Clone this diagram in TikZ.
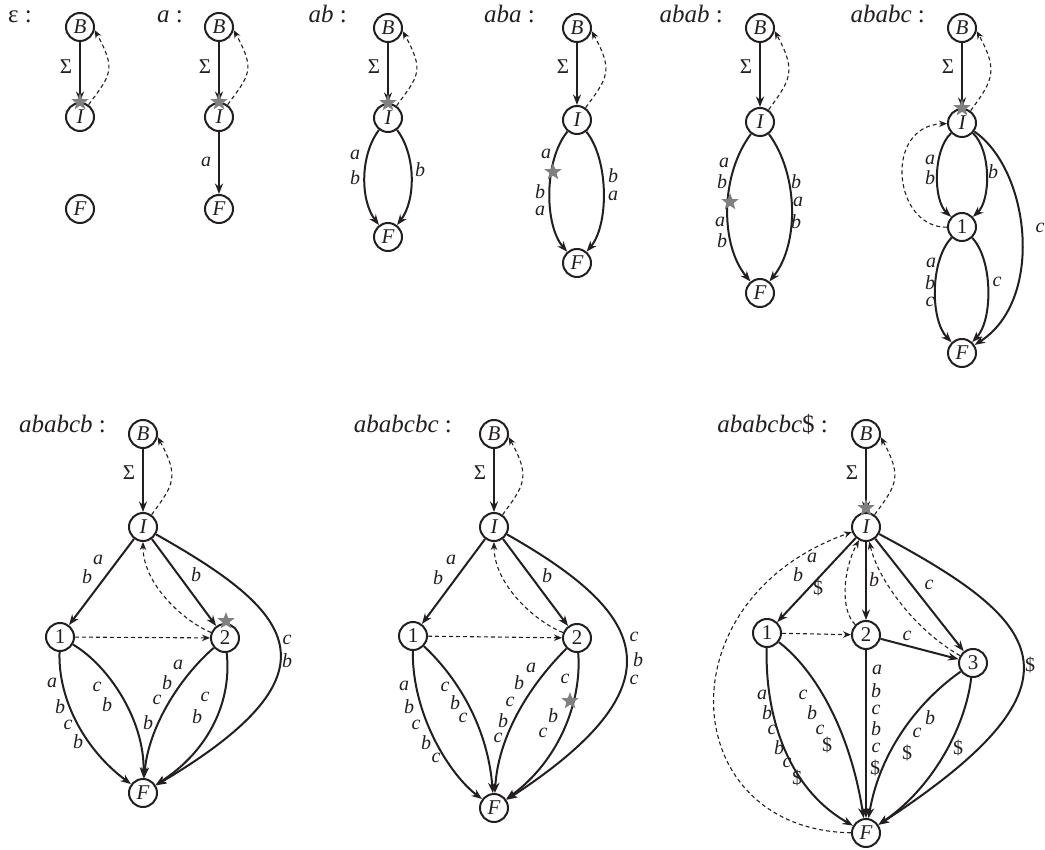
\documentclass[tikz,border=0pt]{standalone}
\usepackage{fontspec}
\setmainfont{Liberation Serif}
\usetikzlibrary{arrows.meta,shapes.geometric}
\definecolor{ink}{RGB}{35,31,32}
\definecolor{stargray}{RGB}{128,128,128}
\tikzset{
  st/.style={circle,draw=ink,line width=2pt,minimum size=28pt,inner sep=0pt,fill=white,text=ink,font=\fontsize{21}{21}\selectfont\itshape},
  stn/.style={st,font=\fontsize{21}{21}\selectfont},
  lab/.style={inner sep=0pt,text=ink,font=\fontsize{20}{20}\selectfont\itshape},
  ulab/.style={inner sep=0pt,text=ink,font=\fontsize{20}{20}\selectfont},
  sig/.style={inner sep=0pt,text=ink,font=\fontsize{21}{21}\selectfont},
  ttl/.style={inner sep=0pt,anchor=base east,text=ink,font=\fontsize{25}{25}\selectfont\itshape},
  ed/.style={draw=ink,line width=2pt,-{Stealth[length=10.5pt,width=8pt]}},
  dsh/.style={draw=ink,line width=1.1pt,dash pattern=on 4pt off 3pt,-{Stealth[length=8pt,width=6.5pt]}},
  starn/.style={star,star points=5,star point ratio=2.4,fill=stargray,draw=none,minimum size=18pt,inner sep=0pt},
}
\begin{document}
\begin{tikzpicture}[x=1pt,y=-1pt]
\useasboundingbox (0,0) rectangle (1045,850);

% ---------- panel 1 : epsilon
\node[ttl] (T1) at (32,23) {\upshape ε :};
\node[st] (B1) at (80,27) {B};
\node[st] (I1) at (80,117) {I};
\node[st] (F1) at (80,209) {F};
\node[sig] (S1) at (66,67) {Σ};
\draw[ed] (B1) -- (I1);
\draw[dsh] (I1.55) .. controls +(22,-30) and +(22,40) .. (B1.-12);
\node[starn] (K1) at (80,102) {};

% ---------- panel 2 : a
\node[ttl] (T2) at (183,23) {a {\upshape :}};
\node[st] (B2) at (219,27) {B};
\node[st] (I2) at (219,117) {I};
\node[st] (F2) at (219,209) {F};
\node[sig] (S2) at (205,67) {Σ};
\draw[ed] (B2) -- (I2);
\draw[dsh] (I2.55) .. controls +(22,-30) and +(22,40) .. (B2.-12);
\draw[ed] (I2) -- (F2);
\node[lab] (L2a) at (206,162) {a};
\node[starn] (K2) at (219,102) {};

% ---------- panel 3 : ab
\node[ttl] (T3) at (347,23) {ab {\upshape :}};
\node[st] (B3) at (388,28) {B};
\node[st] (I3) at (388,118) {I};
\node[st] (F3) at (388,237) {F};
\node[sig] (S3) at (374,67) {Σ};
\draw[ed] (B3) -- (I3);
\draw[dsh] (I3.55) .. controls +(22,-30) and +(22,40) .. (B3.-12);
\draw[ed] (I3) .. controls (360,155) and (360,200) .. (F3);
\draw[ed] (I3) .. controls (416,155) and (416,200) .. (F3);
\node[lab] (L3a) at (355,155) {a};
\node[lab] (L3b) at (355,178) {b};
\node[lab] (L3c) at (420,170) {b};
\node[starn] (K3) at (388,103) {};

% ---------- panel 4 : aba
\node[ttl] (T4) at (535,23) {aba {\upshape :}};
\node[st] (B4) at (577,28) {B};
\node[st] (I4) at (577,120) {I};
\node[st] (F4) at (577,263) {F};
\node[sig] (S4) at (563,67) {Σ};
\draw[ed] (B4) -- (I4);
\draw[dsh] (I4.55) .. controls +(22,-30) and +(22,40) .. (B4.-12);
\draw[ed] (I4) .. controls (544,160) and (544,225) .. (F4);
\draw[ed] (I4) .. controls (609,160) and (609,225) .. (F4);
\node[lab] (L4a) at (546,154) {a};
\node[lab] (L4b) at (540,192) {b};
\node[lab] (L4c) at (540,211) {a};
\node[lab] (L4d) at (613,176) {b};
\node[lab] (L4e) at (613,196) {a};
\node[starn] (K4) at (553,172) {};

% ---------- panel 5 : abab
\node[ttl] (T5) at (723,23) {abab {\upshape :}};
\node[st] (B5) at (760,28) {B};
\node[st] (I5) at (760,122) {I};
\node[st] (F5) at (760,293) {F};
\node[sig] (S5) at (746,67) {Σ};
\draw[ed] (B5) -- (I5);
\draw[dsh] (I5.55) .. controls +(22,-30) and +(22,40) .. (B5.-12);
\draw[ed] (I5) .. controls (720,175) and (720,245) .. (F5);
\draw[ed] (I5) .. controls (799,175) and (799,245) .. (F5);
\node[lab] (L5a) at (724,163) {a};
\node[lab] (L5b) at (722,182) {b};
\node[lab] (L5c) at (720,222) {a};
\node[lab] (L5d) at (722,241) {b};
\node[lab] (L5e) at (796,182) {b};
\node[lab] (L5f) at (798,202) {a};
\node[lab] (L5g) at (796,222) {b};
\node[starn] (K5) at (730,202) {};

% ---------- panel 6 : ababc
\node[ttl] (T6) at (925,23) {ababc {\upshape :}};
\node[st] (B6) at (962,28) {B};
\node[st] (I6) at (962,123) {I};
\node[stn] (N6) at (962,227) {1};
\node[st] (F6) at (962,353) {F};
\node[sig] (S6) at (948,67) {Σ};
\draw[ed] (B6) -- (I6);
\draw[dsh] (I6.55) .. controls +(22,-30) and +(22,40) .. (B6.-12);
\draw[ed] (I6) .. controls (933,150) and (933,200) .. (N6);
\draw[ed] (I6) .. controls (991,150) and (991,200) .. (N6);
\draw[ed] (N6) .. controls (930,260) and (930,320) .. (F6);
\draw[ed] (N6) .. controls (993,260) and (993,320) .. (F6);
\draw[ed] (I6) .. controls (1030,170) and (1045,300) .. (F6);
\draw[dsh] (N6) .. controls (893,228) and (883,126) .. (I6);
\node[lab] (L6a) at (930,160) {a};
\node[lab] (L6b) at (930,178) {b};
\node[lab] (L6c) at (993,172) {b};
\node[lab] (L6d) at (931,263) {a};
\node[lab] (L6e) at (930,283) {b};
\node[lab] (L6f) at (930,302) {c};
\node[lab] (L6g) at (997,282) {c};
\node[lab] (L6h) at (1040,228) {c};
\node[starn] (K6) at (962,108) {};

% ---------- panel 7 : ababcb
\node[ttl] (T7) at (106,432) {ababcb {\upshape :}};
\node[st] (B7) at (143,434) {B};
\node[st] (I7) at (143,527) {I};
\node[stn] (N71) at (60,637) {1};
\node[stn] (N72) at (225,638) {2};
\node[st] (F7) at (143,793) {F};
\node[sig] (S7) at (129,473) {Σ};
\draw[ed] (B7) -- (I7);
\draw[dsh] (I7.55) .. controls +(22,-30) and +(22,40) .. (B7.-12);
\draw[ed] (I7) -- (N71);
\draw[ed] (I7) -- (N72);
\draw[dsh] (N72) .. controls (185,622) and (143,585) .. (I7);
\draw[dsh] (N71) -- (N72);
\draw[ed] (I7) .. controls (290,610) and (350,670) .. (F7);
\draw[ed] (N71) .. controls (58,700) and (85,750) .. (F7);
\draw[ed] (N71) .. controls (108,665) and (145,720) .. (F7);
\draw[ed] (N72) .. controls (177,680) and (148,730) .. (F7);
\draw[ed] (N72) .. controls (232,700) and (210,750) .. (F7);
\node[lab] (L7a) at (98,560) {a};
\node[lab] (L7b) at (87,577) {b};
\node[lab] (L7c) at (196,575) {b};
\node[lab] (L7d) at (287,640) {c};
\node[lab] (L7e) at (287,661) {b};
\node[lab] (L7f) at (52,683) {a};
\node[lab] (L7g) at (60,707) {b};
\node[lab] (L7h) at (68,725) {c};
\node[lab] (L7i) at (78,742) {b};
\node[lab] (L7j) at (97,687) {c};
\node[lab] (L7k) at (107,705) {b};
\node[lab] (L7l) at (178,665) {a};
\node[lab] (L7m) at (167,683) {b};
\node[lab] (L7n) at (157,700) {c};
\node[lab] (L7o) at (148,723) {b};
\node[lab] (L7p) at (205,697) {c};
\node[lab] (L7q) at (197,717) {b};
\node[starn] (K7) at (226,621) {};

% ---------- panel 8 : ababcbc
\node[ttl] (T8) at (452,432) {ababcbc {\upshape :}};
\node[st] (B8) at (494,434) {B};
\node[st] (I8) at (494,527) {I};
\node[stn] (N81) at (413,636) {1};
\node[stn] (N82) at (577,638) {2};
\node[st] (F8) at (494,808) {F};
\node[sig] (S8) at (480,473) {Σ};
\draw[ed] (B8) -- (I8);
\draw[dsh] (I8.55) .. controls +(22,-30) and +(22,40) .. (B8.-12);
\draw[ed] (I8) -- (N81);
\draw[ed] (I8) -- (N82);
\draw[dsh] (N82) .. controls (536,622) and (494,585) .. (I8);
\draw[dsh] (N81) -- (N82);
\draw[ed] (I8) .. controls (640,610) and (690,680) .. (F8);
\draw[ed] (N81) .. controls (412,715) and (450,775) .. (F8);
\draw[ed] (N81) .. controls (460,680) and (488,730) .. (F8);
\draw[ed] (N82) .. controls (525,690) and (498,740) .. (F8);
\draw[ed] (N82) .. controls (582,700) and (560,760) .. (F8);
\node[lab] (L8a) at (451,560) {a};
\node[lab] (L8b) at (438,578) {b};
\node[lab] (L8c) at (547,576) {b};
\node[lab] (L8d) at (634,637) {c};
\node[lab] (L8e) at (638,660) {b};
\node[lab] (L8f) at (634,680) {c};
\node[lab] (L8g) at (404,686) {a};
\node[lab] (L8h) at (409,707) {b};
\node[lab] (L8i) at (416,725) {c};
\node[lab] (L8j) at (426,743) {b};
\node[lab] (L8k) at (436,758) {c};
\node[lab] (L8l) at (445,687) {c};
\node[lab] (L8m) at (455,703) {b};
\node[lab] (L8n) at (463,718) {c};
\node[lab] (L8o) at (531,668) {a};
\node[lab] (L8p) at (519,683) {b};
\node[lab] (L8q) at (510,702) {c};
\node[lab] (L8r) at (503,721) {b};
\node[lab] (L8s) at (498,738) {c};
\node[lab] (L8t) at (565,679) {c};
\node[lab] (L8u) at (553,716) {b};
\node[lab] (L8v) at (543,733) {c};
\node[starn] (K8) at (570,701) {};

% ---------- panel 9 : ababcbc$
\node[ttl] (T9) at (828,432) {ababcbc{\upshape\$ :}};
\node[st] (B9) at (866,434) {B};
\node[st] (I9) at (866,527) {I};
\node[stn] (N91) at (767,633) {1};
\node[stn] (N92) at (866,635) {2};
\node[stn] (N93) at (973,663) {3};
\node[st] (F9) at (866,833) {F};
\node[sig] (S9) at (852,473) {Σ};
\draw[ed] (B9) -- (I9);
\draw[dsh] (I9.55) .. controls +(22,-30) and +(22,40) .. (B9.-12);
\draw[ed] (I9) -- (N91);
\draw[ed] (I9) -- (N92);
\draw[ed] (I9) -- (N93);
\draw[ed] (N92) -- (N93);
\draw[ed] (N92) -- (F9);
\draw[ed] (I9) .. controls (1040,620) and (1100,680) .. (F9);
\draw[ed] (N91) .. controls (765,720) and (790,790) .. (F9);
\draw[ed] (N91) .. controls (815,670) and (850,730) .. (F9);
\draw[ed] (N93) .. controls (920,700) and (880,750) .. (F9);
\draw[ed] (N93) .. controls (965,730) and (930,790) .. (F9);
\draw[dsh] (N91) -- (N92);
\draw[dsh] (N92) .. controls (840,610) and (843,570) .. (I9);
\draw[dsh] (N93) .. controls (915,630) and (878,580) .. (I9);
\draw[dsh] (F9) .. controls (677,830) and (660,600) .. (I9);
\node[lab] (L9a) at (812,558) {a};
\node[lab] (L9b) at (798,575) {b};
\node[ulab] (L9c) at (818,588) {\$};
\node[lab] (L9d) at (874,580) {b};
\node[lab] (L9e) at (929,585) {c};
\node[lab] (L9f) at (907,636) {c};
\node[ulab] (L9g) at (1030,665) {\$};
\node[lab] (L9h) at (762,695) {a};
\node[lab] (L9i) at (767,713) {b};
\node[lab] (L9j) at (772,730) {c};
\node[lab] (L9k) at (779,748) {b};
\node[lab] (L9l) at (787,763) {c};
\node[ulab] (L9m) at (797,778) {\$};
\node[lab] (L9n) at (803,695) {c};
\node[lab] (L9o) at (812,713) {b};
\node[lab] (L9p) at (820,730) {c};
\node[ulab] (L9q) at (827,745) {\$};
\node[lab] (L9r) at (877,670) {a};
\node[lab] (L9s) at (876,691) {b};
\node[lab] (L9t) at (876,710) {c};
\node[lab] (L9u) at (876,729) {b};
\node[lab] (L9v) at (876,748) {c};
\node[ulab] (L9w) at (875,768) {\$};
\node[lab] (L9x) at (930,718) {b};
\node[lab] (L9y) at (917,733) {c};
\node[ulab] (L9z) at (907,753) {\$};
\node[ulab] (L9A) at (958,748) {\$};
\node[starn] (K9) at (866,508) {};
\end{tikzpicture}
\end{document}
